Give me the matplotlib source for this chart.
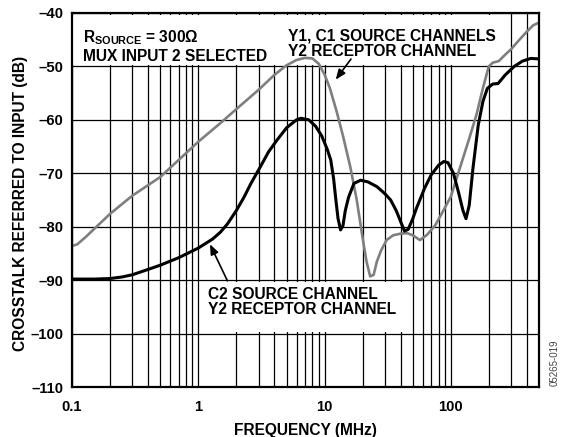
import matplotlib
matplotlib.use("Agg")
import matplotlib.pyplot as plt
from matplotlib.patches import Rectangle
from matplotlib.ticker import FixedLocator, NullFormatter

plt.rcParams['font.family'] = ['Liberation Sans', 'DejaVu Sans']
plt.rcParams['font.weight'] = 'bold'
plt.rcParams['axes.labelweight'] = 'bold'
plt.rcParams['mathtext.fontset'] = 'custom'
plt.rcParams['mathtext.rm'] = 'Liberation Sans:bold'
plt.rcParams['mathtext.bf'] = 'Liberation Sans:bold'

# Y1, C1 source channels -> Y2 receptor (gray)
freq_y1 = [0.1, 0.11, 0.13, 0.15, 0.2, 0.3, 0.5, 0.7, 1.0, 1.5, 2.0, 3.0, 4.0,
           5.0, 6.0, 7.0, 8.0, 9.0, 10.0, 11.0, 12.5, 14.0, 16.0, 18.0, 20.0,
           21.5, 23.0, 24.5, 26.0, 28.0, 31.0, 35.0, 40.0, 45.0, 50.0, 57.0,
           65.0, 75.0, 85.0, 100, 120, 140, 160, 180, 200, 215, 240, 270,
           300, 350, 400, 450, 500]
xtalk_y1 = [-83.6, -83.3, -81.8, -80.4, -77.6, -74.2, -70.7, -67.5, -64.1,
            -60.6, -58.0, -54.4, -51.6, -49.8, -48.8, -48.4, -48.5, -49.5,
            -51.5, -54.0, -58.5, -63.0, -68.8, -75.0, -82.0, -86.5, -89.3,
            -89.0, -86.5, -84.5, -82.5, -81.6, -81.3, -81.2, -81.6, -82.5,
            -81.5, -79.8, -77.5, -74.4, -68.5, -63.5, -59.0, -54.0, -50.0,
            -49.3, -49.0, -47.8, -46.8, -45.0, -43.5, -42.3, -41.8]

# C2 source channel -> Y2 receptor (black)
freq_c2 = [0.1, 0.15, 0.2, 0.25, 0.3, 0.4, 0.5, 0.7, 1.0, 1.3, 1.5, 1.7, 2.0,
           2.3, 2.6, 3.1, 3.6, 4.2, 5.0, 6.0, 6.5, 7.5, 8.5, 9.5, 10.5, 11.2,
           11.8, 12.3, 12.8, 13.4, 14.0, 14.6, 15.5, 17.1, 19.3, 22, 26, 30,
           33.4, 37, 40, 43, 46, 50, 54, 62, 70, 80, 88, 95, 105, 115, 125,
           132, 140, 150, 165, 180, 195, 215, 237, 270, 318, 370, 431, 500]
xtalk_c2 = [-89.8, -89.8, -89.7, -89.4, -89.0, -88.0, -87.2, -85.8, -84.0,
            -82.3, -81.0, -79.5, -77.0, -74.5, -72.0, -68.8, -66.0, -63.8,
            -61.5, -60.0, -59.7, -60.0, -61.2, -63.0, -65.5, -67.5, -71.0,
            -75.0, -78.5, -80.6, -79.8, -77.0, -74.5, -71.9, -71.3, -71.6,
            -72.5, -73.8, -75.0, -77.0, -79.0, -80.8, -80.5, -78.5, -76.3,
            -72.8, -70.3, -68.5, -67.8, -68.0, -70.0, -73.5, -77.0, -78.5,
            -76.0, -69.0, -61.0, -56.5, -54.1, -53.3, -53.2, -51.6, -50.0,
            -49.0, -48.5, -48.6]

major_x = [0.1, 1, 10, 100]
major_x_labels = ['0.1', '1', '10', '100']
y_ticks = [-110, -100, -90, -80, -70, -60, -50, -40]

fig = plt.figure(figsize=(5.64, 4.37), dpi=100)
ax = fig.add_axes([0.1277, 0.1144, 0.8280, 0.8559])

ax.set_xscale('log')
ax.set_xlim(0.1, 500)
ax.set_ylim(-110, -40)

minor_x = [m * d for d in [0.1, 1, 10, 100] for m in range(2, 10) if m * d < 500]
ax.xaxis.set_major_locator(FixedLocator(major_x))
ax.xaxis.set_minor_locator(FixedLocator(minor_x))
ax.xaxis.set_minor_formatter(NullFormatter())
ax.set_xticklabels(major_x_labels)
ax.set_yticks(y_ticks)
ax.set_yticklabels(['\u2013' + str(abs(v)) for v in y_ticks])

ax.grid(True, which='both', axis='x', color='black', lw=0.9, zorder=1)
ax.grid(True, which='major', axis='y', color='black', lw=0.9, zorder=1)
ax.set_axisbelow(True)
ax.tick_params(which='both', length=0, labelsize=10.7)
ax.tick_params(axis='x', pad=9)
ax.tick_params(axis='y', pad=6)
for s in ax.spines.values():
    s.set_linewidth(1.6)
    s.set_zorder(6)

# white label boxes covering the grid
ax.add_patch(Rectangle((0.1, -49.75), 227 - 0.1, 9.35, facecolor='white',
                       edgecolor='none', zorder=2))
ax.add_patch(Rectangle((1.1, -99.7), 46.4 - 1.1, 9.4, facecolor='white',
                       edgecolor='none', zorder=2))

ax.plot(freq_y1, xtalk_y1, color='#7f7f7f', lw=1.9, zorder=4,
        solid_joinstyle='round')
ax.plot(freq_c2, xtalk_c2, color='black', lw=2.2, zorder=5,
        solid_joinstyle='round')

ax.text(0.0235, 0.958, r'$\mathrm{R}_{\mathrm{SOURCE}}$ = 300Ω', transform=ax.transAxes,
        fontsize=11.2, va='top', ha='left', zorder=7)
ax.text(0.0235, 0.905, 'MUX INPUT 2 SELECTED', transform=ax.transAxes,
        fontsize=11.2, va='top', ha='left', zorder=7)
ax.text(0.462, 0.958, 'Y1, C1 SOURCE CHANNELS\nY2 RECEPTOR CHANNEL',
        transform=ax.transAxes, fontsize=11.2, va='top', ha='left',
        linespacing=1.0, zorder=7)
ax.text(1.2, -91.3, 'C2 SOURCE CHANNEL\nY2 RECEPTOR CHANNEL', fontsize=11.2,
        va='top', ha='left', linespacing=1.0, zorder=7)

ax.annotate('', xy=(11.9, -52.9), xytext=(16.7, -48.2),
            arrowprops=dict(arrowstyle='-|>,head_length=0.5,head_width=0.2',
                            color='black', lw=1.2, mutation_scale=12), zorder=7)
ax.annotate('', xy=(1.21, -82.8), xytext=(1.74, -90.6),
            arrowprops=dict(arrowstyle='-|>,head_length=0.5,head_width=0.2',
                            color='black', lw=1.2, mutation_scale=12), zorder=7)

ax.set_xlabel('FREQUENCY (MHz)', fontsize=11.2, fontweight='bold', labelpad=7)
ax.set_ylabel('CROSSTALK REFERRED TO INPUT (dB)', fontsize=11.2,
              fontweight='bold')
ax.yaxis.set_label_coords(-0.094, 0.492)

fig.text(0.984, 0.17, '05265-019', rotation=90, fontsize=7, fontweight='normal',
         color='#444444', ha='center', va='center')

fig.savefig('out.png', dpi=100)
